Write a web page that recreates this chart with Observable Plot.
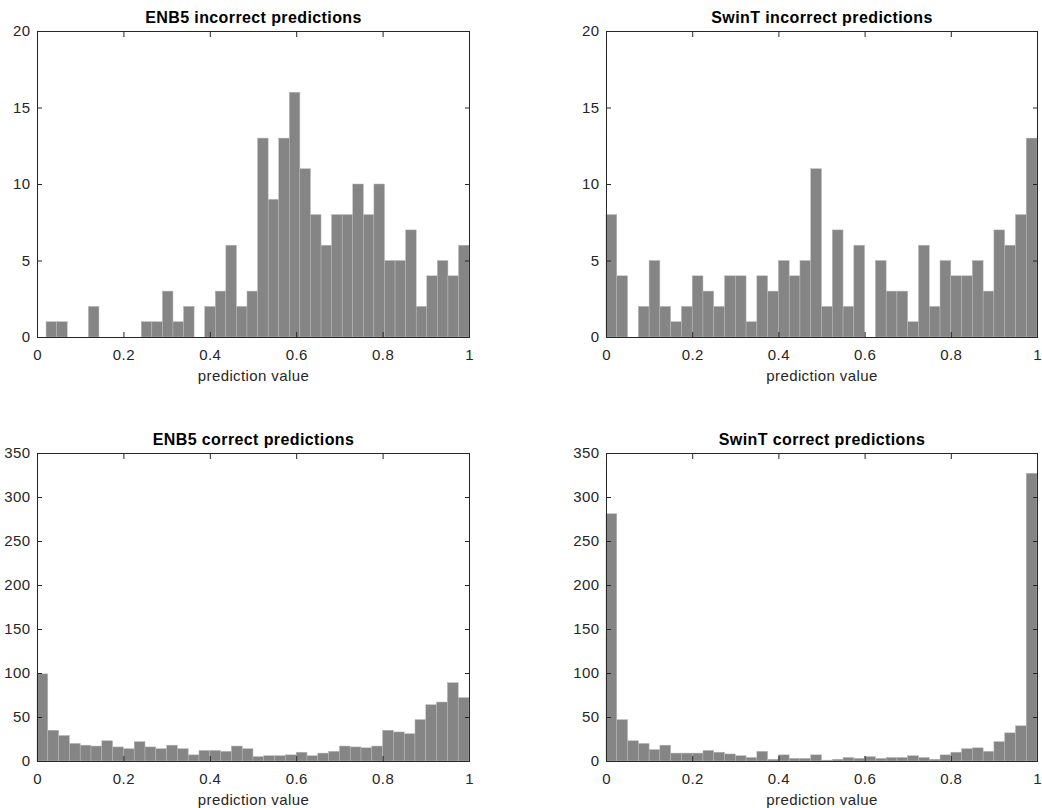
<!DOCTYPE html>
<html><head><meta charset="utf-8">
<script src="https://cdn.jsdelivr.net/npm/d3@7"></script>
<script src="https://cdn.jsdelivr.net/npm/@observablehq/plot@0.6"></script>
<style>
body{margin:0;background:#fff;}
#wrap{position:relative;width:1042px;height:808px;font-family:"Liberation Sans",Arial,Helvetica,sans-serif;}
.panel{position:absolute;}
</style></head><body><div id="wrap"></div>
<script>
// ---- data ----
const titles = ["ENB5 incorrect predictions", "SwinT incorrect predictions", "ENB5 correct predictions", "SwinT correct predictions"];
const xLabel = "prediction value";
const enb5Incorrect = [1,1,0,0,2,0,0,0,0,1,1,3,1,2,0,2,3,6,2,3,13,9,13,16,11,8,6,8,8,10,8,10,5,5,7,2,4,5,4,6];
const swinIncorrect = [8,4,0,2,5,2,1,2,4,3,2,4,4,1,4,3,5,4,5,11,2,7,2,6,0,5,3,3,1,6,2,5,4,4,5,3,7,6,8,13];
const enb5Correct = [99,35,29,20,18,17,23,16,14,22,16,14,18,14,7,12,12,11,17,14,5,6,6,7,10,6,9,11,17,16,15,17,35,33,31,47,64,67,89,72];
const swinCorrect = [281,47,23,20,13,18,9,9,9,12,10,8,6,4,11,2,7,3,3,7,1,2,4,3,5,3,4,4,6,4,2,7,10,14,15,11,22,32,40,327];
const binStart = [0.021, 0, 0, 0];
const binWidth = [0.02448, 0.025, 0.025, 0.025];
const xTicks = [0, 0.2, 0.4, 0.6, 0.8, 1];
const yTicksTop = [0, 5, 10, 15, 20];
const yTicksBottom = [0, 50, 100, 150, 200, 250, 300, 350];
const yMaxTop = 20;
const yMaxBottom = 350;

// ---- layout ----
const series = [enb5Incorrect, swinIncorrect, enb5Correct, swinCorrect];
const layouts = [
  {left: 0, top: 0, width: 521, height: 404, ml: 37, mr: 52, mt: 31, mb: 67, yMax: yMaxTop, yTicks: yTicksTop},
  {left: 521, top: 0, width: 521, height: 404, ml: 85, mr: 5, mt: 31, mb: 67, yMax: yMaxTop, yTicks: yTicksTop},
  {left: 0, top: 404, width: 521, height: 404, ml: 37, mr: 52, mt: 49, mb: 47, yMax: yMaxBottom, yTicks: yTicksBottom},
  {left: 521, top: 404, width: 521, height: 404, ml: 85, mr: 5, mt: 49, mb: 47, yMax: yMaxBottom, yTicks: yTicksBottom}
];
const axisColor = "#262626";
const wrap = document.getElementById("wrap");

series.forEach((vals, i) => {
  const L = layouts[i];
  const rows = vals.map((c, k) => ({
    x1: binStart[i] + k * binWidth[i],
    x2: binStart[i] + (k + 1) * binWidth[i],
    count: c
  })).filter(d => d.count > 0);
  const chart = Plot.plot({
    width: L.width,
    height: L.height,
    marginLeft: L.ml, marginRight: L.mr, marginTop: L.mt, marginBottom: L.mb,
    style: {fontFamily: '"Liberation Sans", Arial, Helvetica, sans-serif', fontSize: "15px", color: axisColor, background: "white", letterSpacing: "0.4px"},
    x: {domain: [0, 1]},
    y: {domain: [0, L.yMax]},
    marks: [
      Plot.rectY(rows, {x1: "x1", x2: "x2", y: "count", fill: "#858585", stroke: "#b8b8b8", strokeWidth: 0.5}),
      Plot.frame({stroke: axisColor, strokeWidth: 1}),
      Plot.axisX(xTicks, {anchor: "bottom", tickSize: -5, tickPadding: 17, tickFormat: d => String(d), label: null, stroke: axisColor, fill: axisColor}),
      Plot.axisX(xTicks, {anchor: "top", tickSize: -5, tickFormat: () => "", label: null, stroke: axisColor}),
      Plot.axisY(L.yTicks, {anchor: "left", tickSize: -5, tickPadding: 12, tickFormat: d => String(d), label: null, stroke: axisColor, fill: axisColor}),
      Plot.axisY(L.yTicks, {anchor: "right", tickSize: -5, tickFormat: () => "", label: null, stroke: axisColor}),
      Plot.text([titles[i]], {frameAnchor: "top", lineAnchor: "middle", dy: -14, fontWeight: "bold", fill: "black", fontSize: 16, style: "letter-spacing:0.6px"}),
      Plot.text([xLabel], {frameAnchor: "bottom", lineAnchor: "middle", dy: 39, fill: axisColor, fontSize: 15, style: "letter-spacing:0.9px"})
    ]
  });
  const div = document.createElement("div");
  div.className = "panel";
  div.style.left = L.left + "px";
  div.style.top = L.top + "px";
  div.appendChild(chart);
  wrap.appendChild(div);
});
</script>
</body></html>
